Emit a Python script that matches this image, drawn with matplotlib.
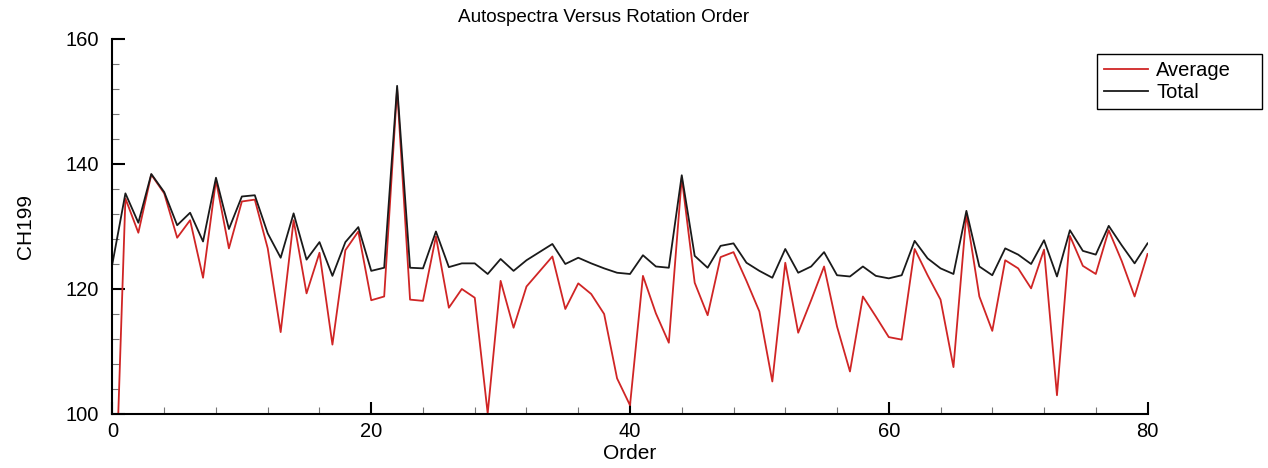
import matplotlib.pyplot as plt
from matplotlib.ticker import MultipleLocator
import numpy as np

plt.rcParams['font.family'] = ['Liberation Sans', 'DejaVu Sans']

order = np.arange(0, 81)

total = [124.1, 135.3, 130.6, 138.4, 135.5, 130.2, 132.2, 127.6, 137.8, 129.6,
         134.8, 135.0, 128.9, 125.0, 132.1, 124.7, 127.5, 122.1, 127.5, 129.9,
         122.9, 123.4, 152.5, 123.4, 123.3, 129.2, 123.5, 124.1, 124.1, 122.4,
         124.8, 122.9, 124.6, 125.9, 127.2, 124.0, 125.0, 124.1, 123.3, 122.6,
         122.4, 125.4, 123.6, 123.4, 138.2, 125.3, 123.4, 126.9, 127.3, 124.2,
         122.9, 121.8, 126.4, 122.6, 123.6, 125.9, 122.2, 122.0, 123.6, 122.1,
         121.7, 122.2, 127.7, 124.9, 123.3, 122.4, 132.5, 123.6, 122.2, 126.5,
         125.5, 124.0, 127.8, 122.0, 129.4, 126.1, 125.5, 130.1, 127.0, 124.1,
         127.3]

average = [72.0, 134.5, 129.0, 138.3, 135.3, 128.2, 131.0, 121.8, 137.4, 126.5,
           134.0, 134.3, 126.5, 113.1, 131.0, 119.3, 125.8, 111.1, 126.2, 129.2,
           118.2, 118.8, 152.0, 118.3, 118.1, 128.4, 117.0, 120.0, 118.6, 100.1,
           121.3, 113.8, 120.4, 122.8, 125.2, 116.8, 120.9, 119.2, 116.0, 105.7,
           101.4, 122.1, 116.1, 111.4, 137.8, 121.0, 115.8, 125.1, 125.9, 121.3,
           116.4, 105.2, 124.2, 113.0, 118.2, 123.6, 114.0, 106.8, 118.8, 115.6,
           112.3, 111.9, 126.4, 122.2, 118.3, 107.5, 132.0, 118.8, 113.3, 124.6,
           123.3, 120.1, 126.3, 103.0, 128.5, 123.7, 122.4, 129.4, 124.5, 118.8,
           125.6]

fig = plt.figure(figsize=(12.68, 4.68), dpi=100)
ax = fig.add_axes([0.0887, 0.1154, 0.8163, 0.8013])

l1, = ax.plot(order, average, color='#d02525', lw=1.3, label='Average')
l2, = ax.plot(order, total, color='#1a1a1a', lw=1.3, label='Total')

ax.set_xlim(0, 80)
ax.set_ylim(100, 160)
ax.xaxis.set_major_locator(MultipleLocator(20))
ax.xaxis.set_minor_locator(MultipleLocator(4))
ax.yaxis.set_major_locator(MultipleLocator(20))
ax.yaxis.set_minor_locator(MultipleLocator(4))
ax.tick_params(which='both', direction='in', labelsize=14.5)
ax.tick_params(which='major', length=9, width=1.5)
ax.tick_params(axis='y', which='major', pad=10)
ax.tick_params(axis='x', which='major', pad=6)
ax.tick_params(which='minor', length=5, width=0.8, color='#777777')
ax.spines['top'].set_visible(False)
ax.spines['right'].set_visible(False)
for s in ['left', 'bottom']:
    ax.spines[s].set_linewidth(1.5)

ax.set_xlabel('Order', fontsize=15, labelpad=2)
ax.set_ylabel('CH199', fontsize=15, labelpad=22)
fig.text(0.476, 0.962, 'Autospectra Versus Rotation Order', ha='center', va='center', fontsize=13.6)

leg_top = 1 - 54 / 468
leg = fig.legend(handles=[l1, l2], loc='upper left',
                 bbox_to_anchor=(1097 / 1268, leg_top - 0.1, 165 / 1268, 0.1),
                 mode='expand', fontsize=14.5, frameon=True, fancybox=False, framealpha=1,
                 borderpad=0.35, labelspacing=0.15, handlelength=2.2, handletextpad=0.4,
                 borderaxespad=0)
leg.get_frame().set_edgecolor('black')
leg.get_frame().set_linewidth(1.0)

fig.savefig('out.png', dpi=100)
